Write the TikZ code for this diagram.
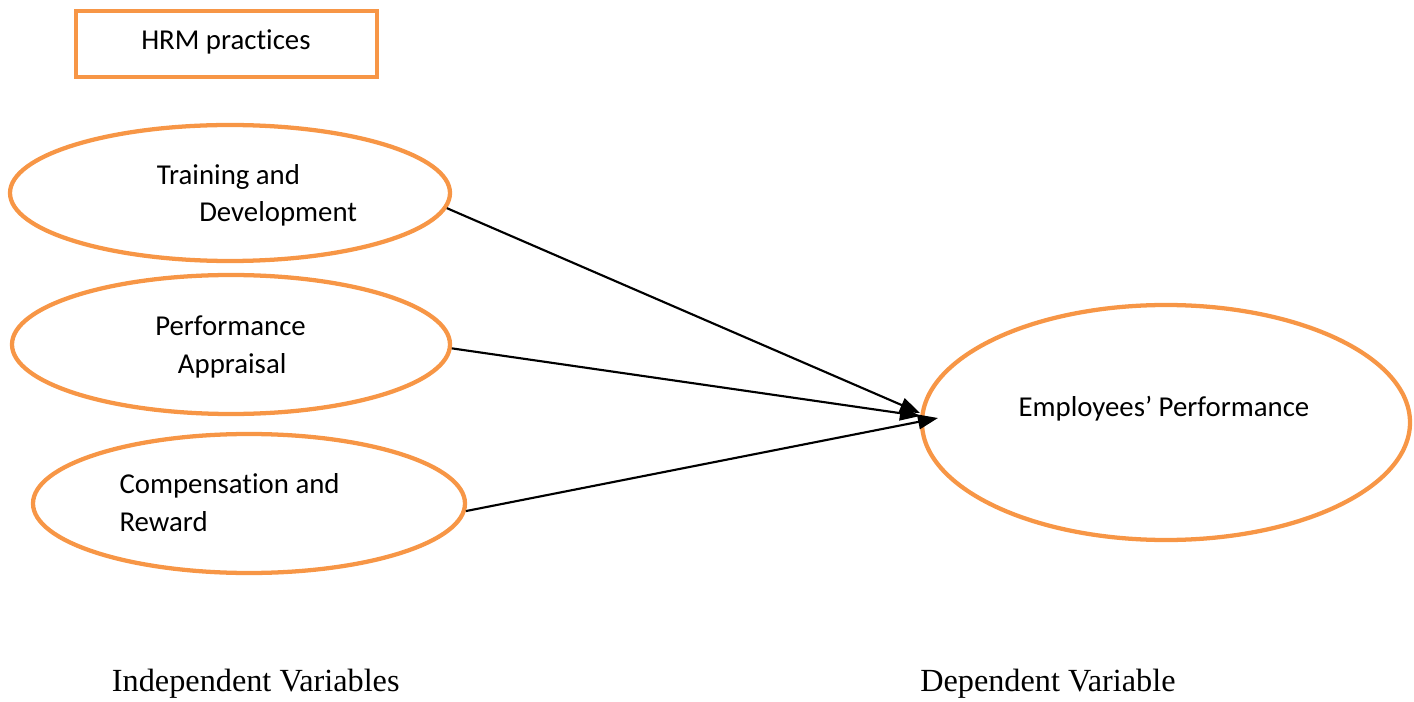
\documentclass[tikz,border=0pt]{standalone}
\usepackage{fontspec}
\setmainfont{Carlito}[Ligatures={NoCommon}]
\newfontfamily\timesfont{Liberation Serif}
\usetikzlibrary{shapes.geometric,arrows.meta}
\definecolor{ora}{RGB}{247,150,70}
\tikzset{
  ovalbox/.style={ellipse, draw=ora, line width=3.2pt, inner sep=0pt},
  hrmbox/.style={rectangle, draw=ora, line width=3.2pt, inner sep=0pt},
  lbl/.style={anchor=base west, inner sep=0pt, font=\fontsize{21.6pt}{25pt}\selectfont},
  bottomlbl/.style={anchor=base west, inner sep=0pt, font=\timesfont\fontsize{24.2pt}{28pt}\selectfont},
  conn/.style={line width=1.6pt, -{Triangle[length=15pt,width=11pt]}}
}
\begin{document}
\begin{tikzpicture}[x=0.75pt,y=-0.75pt]
\useasboundingbox (0,0) rectangle (1414,702);
% HRM box
\node[hrmbox, minimum width=301*0.75pt, minimum height=66*0.75pt] (hrm) at (226.5,44) {};
\node[lbl] (hrmtxt) at (141,50) {HRM practices};
% ellipses
\node[ovalbox, minimum width=440*0.75pt, minimum height=136*0.75pt] (td) at (230,193) {};
\node[ovalbox, minimum width=438*0.75pt, minimum height=139*0.75pt] (pa) at (231,344.5) {};
\node[ovalbox, minimum width=432*0.75pt, minimum height=139*0.75pt] (cr) at (249,503.5) {};
\node[ovalbox, minimum width=488*0.75pt, minimum height=235*0.75pt] (ep) at (1166,422.5) {};
% texts
\node[lbl] (td1) at (156.7,185) {Training and};
\node[lbl] (td2) at (199,221.7) {Development};
\node[lbl] (pa1) at (155,335) {Performance};
\node[lbl] (pa2) at (177.7,373.3) {Appraisal};
\node[lbl] (cr1) at (119.3,493.3) {Compensation and};
\node[lbl] (cr2) at (119.3,531.7) {Reward};
\node[lbl] (ep1) at (1018.3,416) {Employees’ Performance};
\node[bottomlbl] (iv) at (111.7,691) {Independent Variables};
\node[bottomlbl] (dv) at (920,691) {Dependent Variable};
% connectors
\coordinate (tip1) at (920,413);
\coordinate (tip2) at (920,416);
\coordinate (tip3) at (938,418);
\draw[conn] (td.-4) -- (tip1);
\draw[conn] (pa.-1) -- (tip2);
\draw[conn] (cr.-2) -- (tip3);
\end{tikzpicture}
\end{document}
